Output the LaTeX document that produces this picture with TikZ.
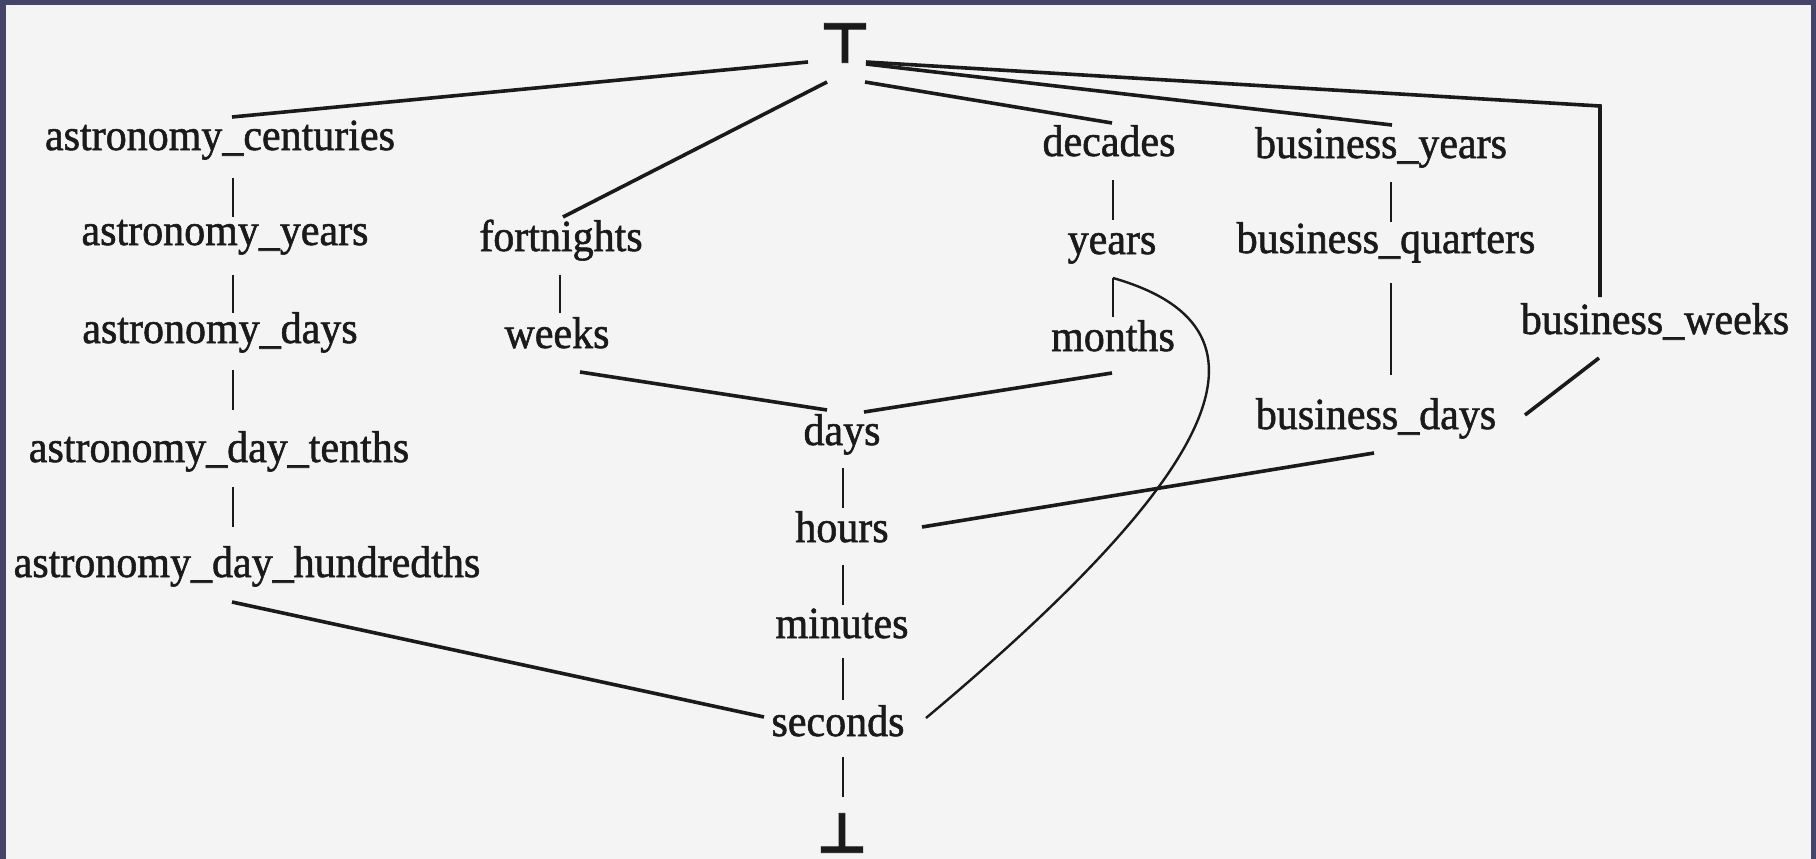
\documentclass[tikz,border=0pt]{standalone}
\usepackage{fontspec}
\usepackage{graphicx}
\setmainfont{Liberation Serif}
\newfontfamily\lblfont{Liberation Serif}[FakeBold=1.3]
\newfontfamily\symfont{DejaVu Sans Bold}[FakeBold=1.5]
\usetikzlibrary{calc}
\definecolor{frame}{HTML}{45456C}
\definecolor{paper}{HTML}{F4F4F4}
\definecolor{ink}{HTML}{1A1A1A}
\newcommand{\tall}[1]{\scalebox{1}[1.06]{#1}}
\begin{document}
\begin{tikzpicture}[x=1pt,y=-1pt,
  lbl/.style={anchor=base,inner sep=0pt,text=ink,font=\lblfont\fontsize{42}{50}\selectfont},
  sym/.style={inner sep=0pt,text=ink,font=\symfont\fontsize{56}{60}\selectfont},
  thickline/.style={draw=ink,line width=3.6pt},
  vline/.style={draw=ink,line width=2.8pt},
  thinline/.style={draw=ink,line width=2.4pt}]
\useasboundingbox (0,0) rectangle (1816,859);
\fill[frame] (0,0) rectangle (1816,859);
\fill[paper] (6,5) rectangle (1811,859);

% nodes
\node[sym] (top) at (845,43) {⊤};
\node[sym] (bot) at (842,833) {⊥};
\node[lbl] (ac) at (220,150) {\tall{astronomy\_centuries}};
\node[lbl] (ay) at (225,245) {\tall{astronomy\_years}};
\node[lbl] (ad) at (220,343) {\tall{astronomy\_days}};
\node[lbl] (at) at (219,462) {\tall{astronomy\_day\_tenths}};
\node[lbl] (ah) at (247,577) {\tall{astronomy\_day\_hundredths}};
\node[lbl] (fn) at (561,251) {\tall{fortnights}};
\node[lbl] (wk) at (557,348) {\tall{weeks}};
\node[lbl] (dc) at (1109,156) {\tall{decades}};
\node[lbl] (yr) at (1112,254) {\tall{years}};
\node[lbl] (mo) at (1113,351) {\tall{months}};
\node[lbl] (by) at (1381,158) {\tall{business\_years}};
\node[lbl] (bq) at (1386,253) {\tall{business\_quarters}};
\node[lbl] (bw) at (1655,334) {\tall{business\_weeks}};
\node[lbl] (bd) at (1376,429) {\tall{business\_days}};
\node[lbl] (dy) at (842,445) {\tall{days}};
\node[lbl] (hr) at (842,542) {\tall{hours}};
\node[lbl] (mi) at (842,638) {\tall{minutes}};
\node[lbl] (se) at (838,736) {\tall{seconds}};

% connectors from top
\draw[thickline] ($(top.center)+(-37,19)$) -- ($(ac.base)+(12,-33)$);
\draw[thickline] ($(top.center)+(-18,39)$) -- ($(fn.base)+(2,-34)$);
\draw[thickline] ($(top.center)+(20,39)$) -- ($(dc.base)+(3,-33)$);
\draw[thickline] ($(top.center)+(21,21)$) -- ($(by.base)+(11,-33)$);
\draw[thickline] ($(top.center)+(21,19)$) -- ($(bw.base)+(-55,-228)$) -- ($(bw.base)+(-55,-37)$);

% astronomy column
\draw[vline] ($(ac.base)+(13,28)$) -- ($(ay.base)+(8,-28)$);
\draw[vline] ($(ay.base)+(8,30)$) -- ($(ad.base)+(13,-30)$);
\draw[vline] ($(ad.base)+(13,27)$) -- ($(at.base)+(14,-52)$);
\draw[vline] ($(at.base)+(14,25)$) -- ($(ah.base)+(-14,-50)$);
\draw[thickline] ($(ah.base)+(-15,25)$) -- ($(se.base)+(-74,-19)$);

% fortnights / weeks
\draw[vline] ($(fn.base)+(-1,24)$) -- ($(wk.base)+(3,-35)$);
\draw[thickline] ($(wk.base)+(23,24)$) -- ($(dy.base)+(-15,-35)$);

% decades / years / months
\draw[vline] ($(dc.base)+(4,24)$) -- ($(yr.base)+(1,-34)$);
\draw[vline] ($(yr.base)+(1,24)$) -- ($(mo.base)+(0,-34)$);
\draw[thickline] ($(mo.base)+(-1,22)$) -- ($(dy.base)+(22,-33)$);
\draw[thinline] ($(yr.base)+(1,24)$) .. controls (1295,330) and (1210,480) .. ($(se.base)+(88,-18)$);

% centre column
\draw[vline] ($(dy.base)+(1,23)$) -- ($(hr.base)+(1,-34)$);
\draw[vline] ($(hr.base)+(1,23)$) -- ($(mi.base)+(1,-33)$);
\draw[vline] ($(mi.base)+(1,20)$) -- ($(se.base)+(5,-36)$);
\draw[vline] ($(se.base)+(5,21)$) -- ($(bot.center)+(1,-36)$);

% business column
\draw[vline] ($(by.base)+(10,24)$) -- ($(bq.base)+(5,-31)$);
\draw[thinline] ($(bq.base)+(5,30)$) -- ($(bd.base)+(15,-54)$);
\draw[thickline] ($(bw.base)+(-56,24)$) -- ($(bd.base)+(149,-14)$);
\draw[thickline] ($(bd.base)+(-2,24)$) -- ($(hr.base)+(80,-15)$);
\end{tikzpicture}
\end{document}
